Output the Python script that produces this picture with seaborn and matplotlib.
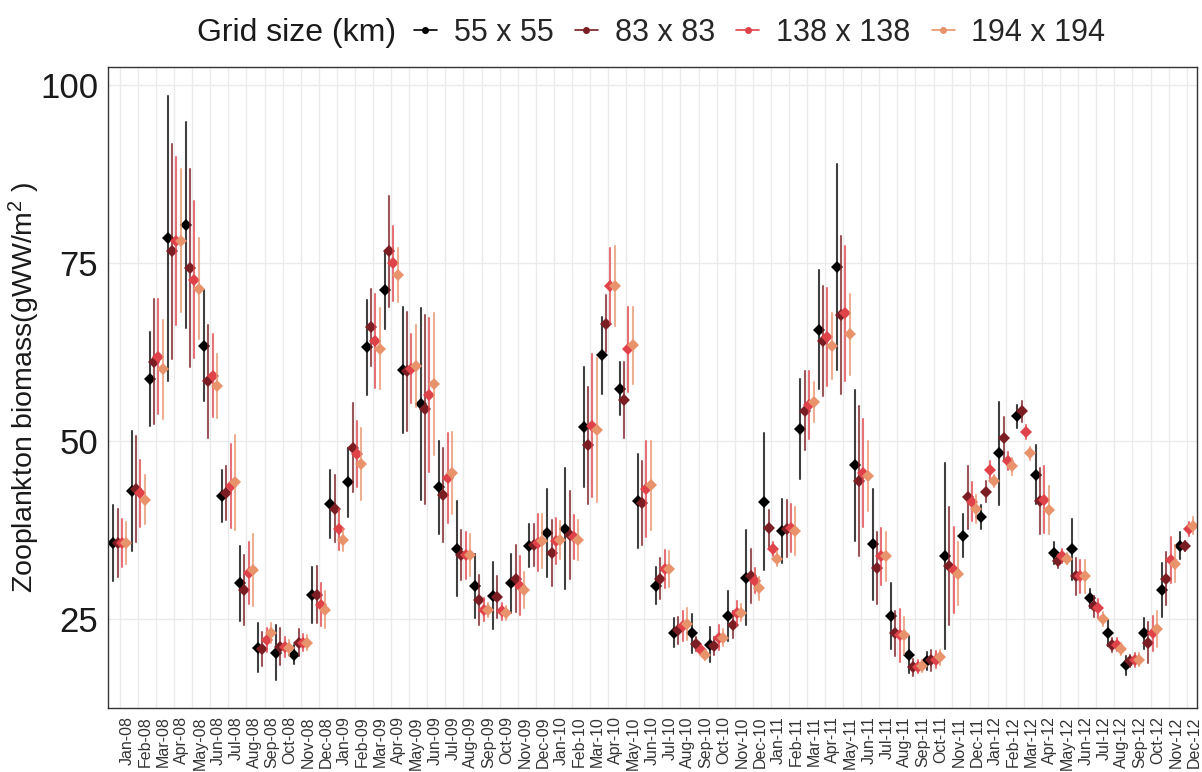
import numpy as np
import pandas as pd
import matplotlib
matplotlib.use("Agg")
import matplotlib.pyplot as plt
from matplotlib.lines import Line2D
import seaborn as sns

months = ["Jan-08", "Feb-08", "Mar-08", "Apr-08", "May-08", "Jun-08", "Jul-08", "Aug-08", "Sep-08", "Oct-08", "Nov-08", "Dec-08",
          "Jan-09", "Feb-09", "Mar-09", "Apr-09", "May-09", "Jun-09", "Jul-09", "Aug-09", "Sep-09", "Oct-09", "Nov-09", "Dec-09",
          "Jan-10", "Feb-10", "Mar-10", "Apr-10", "May-10", "Jun-10", "Jul-10", "Aug-10", "Sep-10", "Oct-10", "Nov-10", "Dec-10",
          "Jan-11", "Feb-11", "Mar-11", "Apr-11", "May-11", "Jun-11", "Jul-11", "Aug-11", "Sep-11", "Oct-11", "Nov-11", "Dec-11",
          "Jan-12", "Feb-12", "Mar-12", "Apr-12", "May-12", "Jun-12", "Jul-12", "Aug-12", "Sep-12", "Oct-12", "Nov-12", "Dec-12"]

grid_sizes = ["55 x 55", "83 x 83", "138 x 138", "194 x 194"]

# mean biomass per grid size
mean_55 = [35.7, 43.0, 58.7, 78.5, 80.4, 63.4, 42.3, 30.0, 21.0, 20.3, 20.0, 28.4,
           41.2, 44.2, 63.2, 71.3, 60.0, 55.2, 43.5, 34.9, 29.7, 28.3, 30.0, 35.3,
           37.1, 37.7, 52.0, 62.1, 57.4, 41.6, 29.7, 23.1, 23.0, 21.4, 25.4, 30.8,
           41.5, 37.4, 51.7, 65.7, 74.5, 46.6, 35.5, 25.4, 20.0, 19.1, 33.9, 36.7,
           39.3, 48.3, 53.5, 45.3, 34.3, 34.8, 27.9, 23.0, 18.5, 23.0, 29.1, 35.3]
mean_83 = [35.7, 43.3, 61.2, 76.7, 74.3, 58.4, 42.7, 29.1, 20.8, 21.1, 21.7, 28.4,
           40.5, 49.1, 66.0, 76.7, 59.8, 54.5, 42.4, 34.0, 27.7, 28.1, 30.7, 35.4,
           34.3, 36.8, 49.4, 66.5, 55.8, 41.3, 30.7, 23.4, 21.5, 21.2, 24.2, 31.0,
           37.8, 37.7, 54.3, 64.1, 67.8, 44.4, 32.2, 23.0, 18.2, 19.2, 32.5, 42.1,
           42.9, 50.4, 54.2, 41.6, 33.2, 31.0, 26.8, 21.4, 19.1, 21.7, 30.7, 35.3]
mean_138 = [35.7, 42.7, 61.9, 78.1, 72.7, 59.2, 43.7, 31.5, 22.1, 21.1, 21.7, 27.0,
            37.6, 48.2, 64.1, 75.0, 60.2, 56.5, 44.8, 34.0, 26.3, 26.1, 29.7, 35.7,
            36.0, 36.5, 52.2, 71.8, 62.9, 43.3, 32.0, 24.0, 20.6, 22.4, 25.8, 30.4,
            34.9, 37.8, 55.1, 64.7, 68.0, 45.5, 33.8, 22.7, 18.3, 19.3, 31.9, 41.5,
            45.9, 47.2, 51.3, 41.8, 33.9, 31.0, 26.5, 21.4, 19.3, 23.0, 33.3, 37.7]
mean_194 = [35.7, 41.8, 60.1, 78.2, 71.4, 57.7, 44.2, 31.9, 23.0, 20.9, 21.7, 26.3,
            36.1, 46.8, 63.0, 73.3, 60.6, 58.0, 45.5, 34.0, 26.3, 25.8, 29.1, 36.0,
            36.1, 36.1, 51.6, 71.8, 63.5, 43.8, 32.0, 24.3, 20.0, 22.4, 25.9, 29.3,
            33.5, 37.4, 55.5, 63.4, 65.0, 45.1, 33.8, 22.7, 18.4, 19.6, 31.4, 40.5,
            44.4, 46.5, 48.3, 40.3, 33.5, 31.0, 25.0, 20.8, 19.3, 23.6, 32.8, 38.1]

# error bar half-widths per grid size
err_55 = [5.4, 8.4, 6.6, 20.0, 14.5, 7.8, 3.6, 5.3, 3.4, 3.9, 1.3, 3.9,
          4.8, 4.8, 6.7, 5.5, 8.8, 13.5, 6.6, 6.7, 4.5, 4.7, 4.2, 3.0,
          6.2, 8.5, 8.5, 5.4, 3.7, 6.6, 2.6, 2.0, 2.7, 2.5, 3.5, 6.7,
          9.6, 4.5, 7.0, 8.4, 14.5, 10.6, 7.8, 4.6, 2.6, 1.3, 13.1, 3.0,
          1.7, 7.2, 1.6, 4.1, 1.6, 4.3, 1.3, 1.8, 1.3, 2.2, 3.8, 1.9]
err_83 = [4.8, 7.4, 8.8, 15.1, 13.9, 8.0, 3.8, 4.9, 2.4, 2.6, 1.9, 4.0,
          4.7, 6.3, 5.4, 7.8, 8.4, 13.3, 6.6, 3.5, 3.5, 2.9, 4.7, 3.0,
          4.6, 6.2, 8.2, 4.0, 5.4, 5.9, 2.9, 1.9, 1.0, 1.3, 1.9, 3.8,
          2.6, 4.0, 5.6, 7.7, 11.1, 10.5, 5.1, 3.2, 1.2, 1.5, 8.3, 4.4,
          1.5, 3.0, 1.5, 4.7, 1.0, 2.6, 1.5, 1.0, 0.9, 2.9, 3.7, 0.7]
err_138 = [3.4, 4.7, 8.1, 11.8, 11.0, 5.8, 5.9, 4.4, 1.7, 1.4, 1.2, 3.0,
           2.9, 4.7, 6.6, 5.3, 4.8, 10.8, 6.3, 3.3, 1.6, 1.2, 4.1, 4.0,
           3.2, 3.1, 10.0, 5.3, 6.0, 6.7, 2.7, 2.1, 0.7, 1.8, 1.8, 1.8,
           1.0, 3.4, 4.8, 6.9, 9.5, 7.6, 4.0, 3.7, 0.9, 1.2, 6.0, 2.7,
           1.3, 1.3, 1.0, 4.7, 1.0, 2.3, 1.3, 0.9, 1.0, 2.5, 3.2, 1.0]
err_194 = [2.9, 3.4, 7.0, 10.1, 7.1, 4.5, 6.7, 5.0, 1.4, 1.1, 1.0, 2.6,
           1.5, 5.1, 5.7, 3.8, 5.8, 10.0, 5.8, 2.9, 1.0, 1.0, 2.5, 3.8,
           2.7, 2.8, 10.1, 5.6, 5.4, 6.3, 2.5, 2.2, 0.7, 1.2, 1.2, 1.6,
           1.0, 3.4, 2.8, 4.6, 5.7, 4.9, 3.5, 2.6, 0.8, 1.0, 4.4, 2.0,
           0.9, 1.2, 0.9, 3.4, 0.8, 2.3, 1.0, 0.8, 0.9, 2.5, 2.6, 1.2]

colors = ["#000000", "#7A1E23", "#E0424A", "#E8936C"]

# long table: for each month/grid the lower end, the mean, and the upper end
rows = []
for g, means, errs in zip(grid_sizes, [mean_55, mean_83, mean_138, mean_194],
                          [err_55, err_83, err_138, err_194]):
    for mo, mu, e in zip(months, means, errs):
        for v in (mu - e, mu, mu + e):
            rows.append((mo, g, v))
df = pd.DataFrame(rows, columns=["month", "grid", "biomass"])

sns.set_theme(style="white")
plt.rcParams["font.family"] = ["Liberation Sans", "DejaVu Sans"]
plt.rcParams["mathtext.fontset"] = "custom"
plt.rcParams["mathtext.rm"] = "Liberation Sans"
plt.rcParams["mathtext.it"] = "Liberation Sans"

fig = plt.figure(figsize=(12.02, 7.72), dpi=100)
ax = fig.add_axes([108 / 1202, 1 - 708 / 772, (1197 - 108) / 1202, (708 - 67) / 772])

sns.pointplot(data=df, x="month", y="biomass", hue="grid", order=months,
              hue_order=grid_sizes, palette=colors, estimator="median",
              errorbar=lambda v: (v.min(), v.max()), dodge=0.72,
              markers="D", linestyle="none", markersize=6.2, markeredgewidth=0,
              err_kws={"linewidth": 1.5, "alpha": 0.75}, legend=False, ax=ax)

ax.set_xlim(-0.66, 59.57)
ax.set_ylim(12.5, 102.6)
ax.set_yticks([25, 50, 75, 100])
ax.grid(True, color="#EBEBEB", linewidth=1.0)
ax.set_axisbelow(True)
for s in ax.spines.values():
    s.set_color("#333333")
    s.set_linewidth(1.0)
ax.tick_params(axis="both", direction="out", width=1, color="#333333")
ax.tick_params(axis="y", labelsize=25, labelcolor="#1a1a1a", length=5, pad=2)
ax.tick_params(axis="x", labelsize=11.5, labelcolor="#333333", labelrotation=90,
               length=3.5, pad=2.5)
for lbl in ax.get_xticklabels():
    lbl.set_ha("left")
ax.set_xlabel("")
ax.set_ylabel("Zooplankton biomass(gWW/m$^{2}$ )", fontsize=20.5, color="#1a1a1a")
ax.yaxis.set_label_coords(-0.061, 0.5)

# legend at top
fig.text(197 / 1202, 1 - 33 / 772, "Grid size (km)", fontsize=23, va="center", ha="left",
         color="#1a1a1a")
handles = [Line2D([], [], color=c, marker="o", markersize=4, linewidth=1.2) for c in colors]
fig.legend(handles, grid_sizes, loc="center left", bbox_to_anchor=(414 / 1202, 1 - 33 / 772),
           ncol=4, frameon=False, fontsize=22, handlelength=0.75, handletextpad=0.55,
           columnspacing=0.7, borderpad=0, borderaxespad=0)

fig.savefig("out.png", dpi=100)
